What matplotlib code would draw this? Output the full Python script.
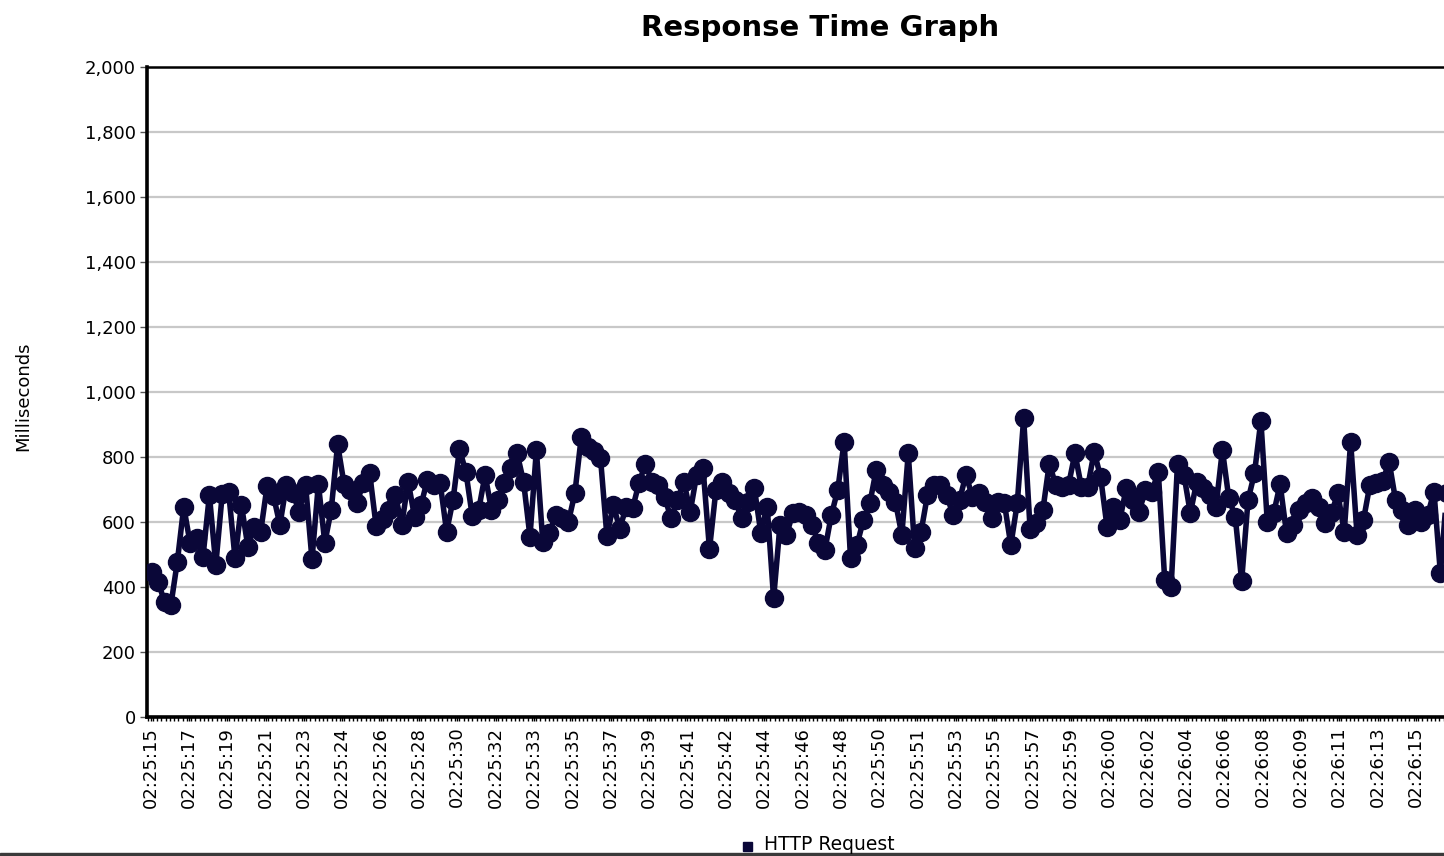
import numpy as np
import matplotlib.pyplot as plt
from matplotlib.ticker import MultipleLocator, FuncFormatter, FixedLocator
import matplotlib.patches as mpatches

# --- data ---
series_name = "HTTP Request"
first_sample_s = 2 * 3600 + 25 * 60 + 15.95   # 02:25:15.95
sample_step_s = 0.301
response_ms = [
    447, 416, 355, 345, 478, 647, 534, 550, 493, 683,
    468, 685, 693, 488, 652, 524, 585, 570, 711, 680,
    591, 714, 690, 632, 714, 485, 717, 536, 637, 839,
    717, 700, 657, 721, 750, 588, 608, 637, 683, 591,
    724, 616, 652, 729, 714, 719, 570, 668, 824, 755,
    618, 637, 745, 637, 668, 719, 765, 811, 724, 555,
    821, 539, 565, 621, 612, 601, 688, 862, 830, 820,
    797, 557, 652, 580, 645, 642, 719, 780, 724, 714,
    678, 611, 668, 724, 632, 745, 765, 516, 698, 724,
    688, 668, 611, 662, 704, 567, 647, 365, 591, 560,
    627, 632, 621, 591, 534, 514, 621, 698, 847, 488,
    529, 606, 657, 760, 714, 693, 662, 560, 811, 519,
    570, 683, 714, 714, 683, 621, 668, 745, 678, 688,
    662, 611, 662, 657, 529, 657, 919, 580, 596, 637,
    780, 714, 709, 714, 811, 709, 709, 816, 739, 586,
    647, 606, 704, 668, 632, 698, 693, 755, 422, 401,
    780, 745, 627, 724, 704, 683, 647, 822, 673, 616,
    419, 668, 750, 912, 601, 627, 717, 565, 591, 637,
    657, 673, 647, 596, 627, 688, 570, 847, 560, 606,
    714, 719, 725, 786, 668, 637, 591, 637, 601, 621,
    693, 442, 690,
]
axis_start_s = 2 * 3600 + 25 * 60 + 15.9
label_step_s = 1.8
y_ticks = [0, 200, 400, 600, 800, 1000, 1200, 1400, 1600, 1800, 2000]

times = first_sample_s + sample_step_s * np.arange(len(response_ms))
navy = "#0a0738"

plt.rcParams["font.family"] = "DejaVu Sans"
fig = plt.figure(figsize=(14.44, 8.56), dpi=100)
ax = fig.add_axes([147 / 1444, 1 - 717 / 856, 1 - 147 / 1444, (717 - 67) / 856])

ax.plot(times, response_ms, color=navy, linewidth=4.0, marker="o",
        markersize=13, markerfacecolor=navy, markeredgecolor=navy, zorder=3)

ax.set_ylim(0, 2000)
ax.set_xlim(axis_start_s - 0.17, axis_start_s + 60.72)
ax.yaxis.set_major_locator(FixedLocator(y_ticks))
ax.yaxis.set_major_formatter(FuncFormatter(lambda v, p: f"{int(v):,}"))
ax.grid(axis="y", color="#c8c8c8", linewidth=1.6)
ax.set_axisbelow(True)


def hms(v, pos):
    s = int(np.floor(v))
    return f"{s // 3600:02d}:{(s % 3600) // 60:02d}:{s % 60:02d}"


ax.xaxis.set_major_locator(FixedLocator(np.arange(axis_start_s, axis_start_s + 61, label_step_s)))
ax.xaxis.set_major_formatter(FuncFormatter(hms))
ax.xaxis.set_minor_locator(MultipleLocator(0.2))
ax.tick_params(axis="x", which="both", length=3, width=1, color="black",
               labelsize=13, labelrotation=90, pad=4)
ax.tick_params(axis="y", length=5, width=1, color="#555555", labelsize=13, pad=3)

for side in ["left", "bottom"]:
    ax.spines[side].set_linewidth(2.6)
ax.spines["top"].set_linewidth(1.8)
ax.spines["right"].set_visible(False)

ax.set_ylabel("Milliseconds", fontsize=13, labelpad=0)
ax.yaxis.set_label_coords(-0.0885, 0.494)

fig.text(820 / 1444, 1 - 28 / 856, "Response Time Graph", ha="center", va="center",
         fontsize=21, fontweight="bold")

# legend at the bottom
fig.patches.append(mpatches.Rectangle((743 / 1444, 1 - 851 / 856), 9 / 1444, 9 / 856,
                                      transform=fig.transFigure, color=navy))
fig.text(764 / 1444, 1 - 845 / 856, series_name, ha="left", va="center", fontsize=13.5)
fig.patches.append(mpatches.Rectangle((0, 0), 1, 3 / 856, transform=fig.transFigure,
                                      color="#3a3a3a"))

fig.savefig("out.png", dpi=100)
